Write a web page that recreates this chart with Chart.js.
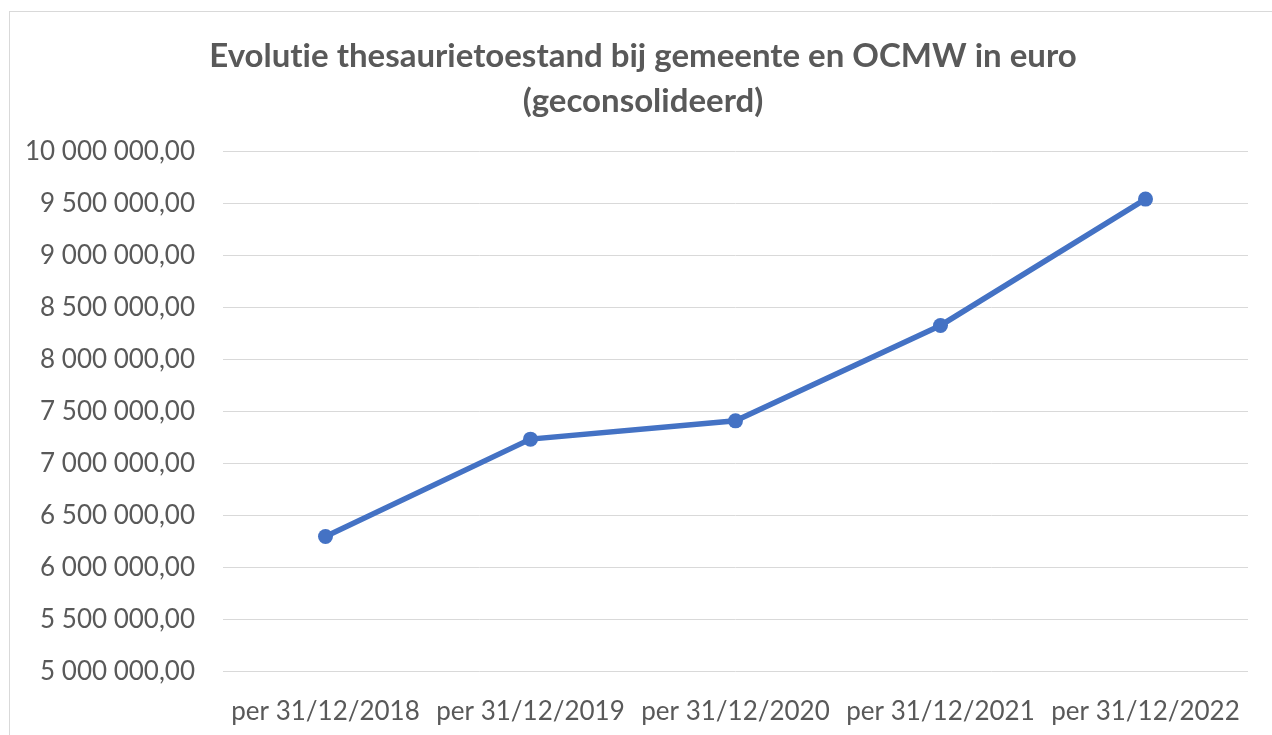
<!DOCTYPE html>
<html>
<head>
<meta charset="utf-8">
<script src="https://cdn.jsdelivr.net/npm/chart.js@4.4.1/dist/chart.umd.min.js"></script>
<style>
  html, body { margin: 0; padding: 0; background: #fff; overflow: hidden; }
  #wrap {
    position: absolute; left: 9px; top: 11px;
    width: 1266px; height: 740px;
    border: 1px solid #d9d9d9; background: #fff;
  }
</style>
</head>
<body>
<div id="wrap"><canvas id="thesChart"></canvas></div>
<script>
// data
const categories = ['per 31/12/2018', 'per 31/12/2019', 'per 31/12/2020', 'per 31/12/2021', 'per 31/12/2022'];
const thesaurie = [6301000, 7237000, 7413000, 8330000, 9545000];
// zero-width non-joiner keeps Lato from drawing the "ti" ligature
const titleLines = ['Evolut\u200Cie thesaurietoestand bij gemeente en OCMW in euro', '(geconsolideerd)'];

const fontFam = 'Lato, "Open Sans", sans-serif';

function formatEuro(v) {
    // 7500000 -> "7 500 000,00"
    return Math.round(v).toString().replace(/\B(?=(\d{3})+(?!\d))/g, ' ') + ',00';
}

const ctx = document.getElementById('thesChart').getContext('2d');
const thesChart = new Chart(ctx, {
    type: 'line',
    data: {
        labels: categories,
        datasets: [{
            label: 'Thesaurie',
            data: thesaurie,
            borderColor: '#4472C4',
            backgroundColor: '#4472C4',
            borderWidth: 5.5,
            pointRadius: 7.5,
            pointHoverRadius: 7.5,
            pointBorderWidth: 0,
            tension: 0
        }]
    },
    options: {
        responsive: true,
        maintainAspectRatio: false,
        animation: false,
        layout: {
            padding: { left: 14, right: 14, top: 22, bottom: 9 }
        },
        plugins: {
            legend: { display: false },
            tooltip: { enabled: false },
            title: {
                display: true,
                text: titleLines,
                color: '#595959',
                font: { family: fontFam, size: 33, weight: 'bold', lineHeight: 1.36 },
                padding: { top: 0, bottom: 28 }
            }
        },
        scales: {
            x: {
                offset: true,
                grid: { display: false },
                border: { display: false },
                ticks: {
                    color: '#595959',
                    padding: 16,
                    maxRotation: 0,
                    font: { family: fontFam, size: 26 }
                },
                // keep the plot area clear of the right edge, as in the original
                afterFit: (scale) => { scale.paddingRight = 28; }
            },
            y: {
                min: 5000000,
                max: 10000000,
                border: { display: false },
                grid: { color: '#d9d9d9', lineWidth: 1, drawTicks: false },
                ticks: {
                    stepSize: 500000,
                    color: '#595959',
                    padding: 28,
                    font: { family: fontFam, size: 26 },
                    callback: (v) => formatEuro(v)
                },
                afterFit: (scale) => { scale.width = 199; }
            }
        }
    }
});
</script>
</body>
</html>
